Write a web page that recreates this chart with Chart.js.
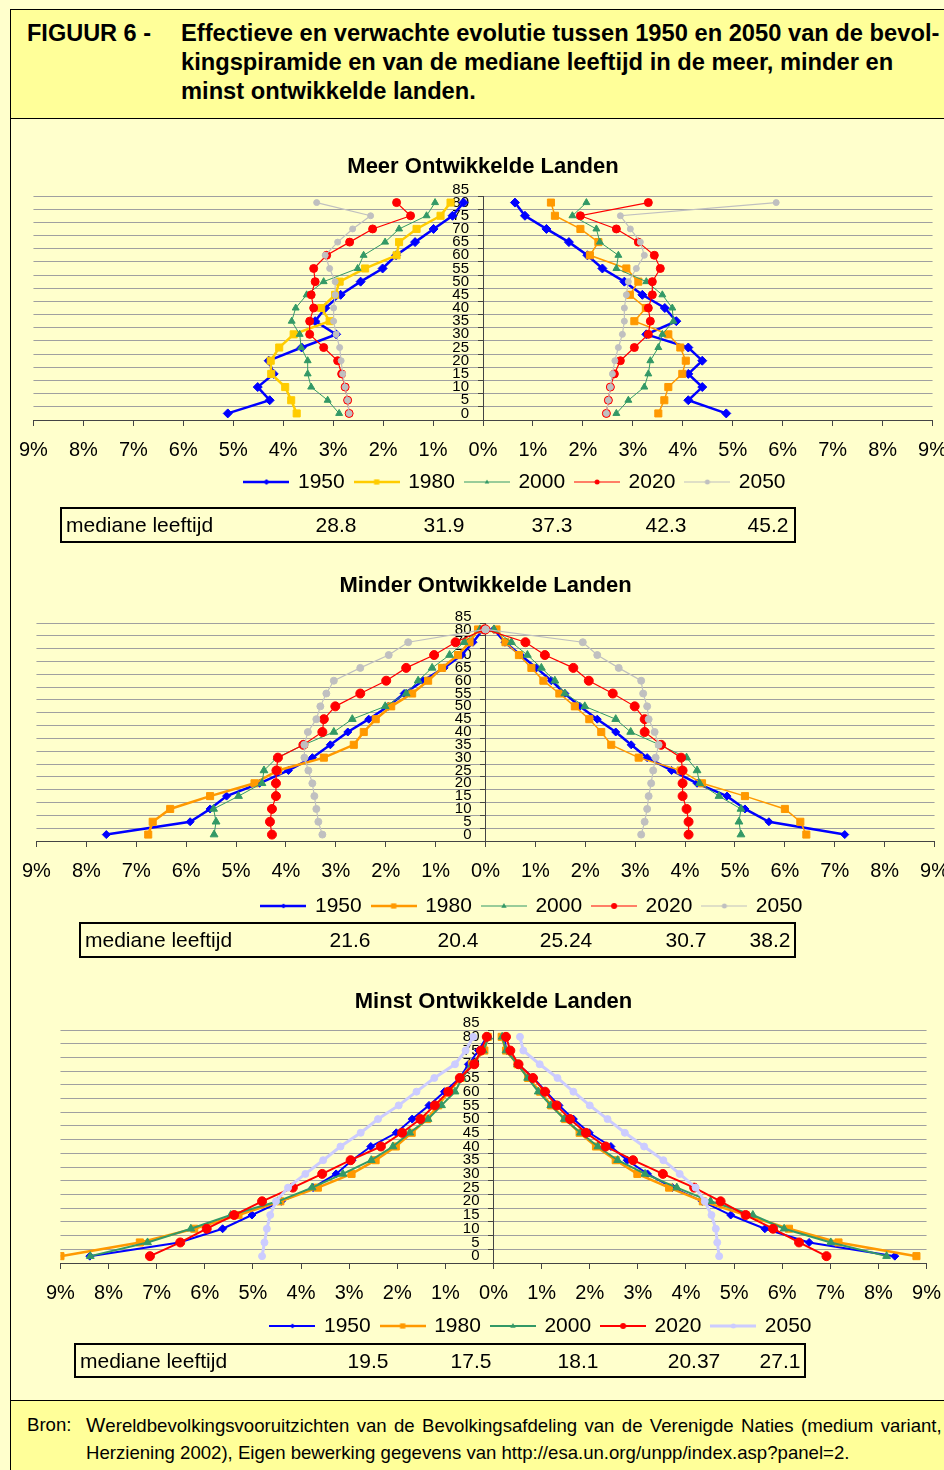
<!DOCTYPE html>
<html>
<head>
<meta charset="utf-8">
<script src="https://cdn.jsdelivr.net/npm/chart.js@4.4.1/dist/chart.umd.min.js"></script>
<style>
  html, body { margin: 0; padding: 0; width: 944px; height: 1470px; overflow: hidden; background: #ffffcc; }
  body { font-family: "Liberation Sans", Arial, Helvetica, sans-serif; color: #000; }
  #frame { position: absolute; left: 10px; top: 9px; width: 1000px; height: 1500px; border: 1px solid #000; background: #ffffcc; box-sizing: border-box; }
  #header { position: absolute; left: 10px; top: 9px; width: 1000px; height: 110px; background: #ffff99; border: 1px solid #000; box-sizing: border-box; }
  #header .lbl { position: absolute; left: 16px; top: 9px; font-size: 23.5px; font-weight: bold; line-height: 29px; white-space: nowrap; }
  #header .ttl { position: absolute; left: 170px; top: 9px; font-size: 23.7px; font-weight: bold; line-height: 29px; white-space: nowrap; }
  #footer { position: absolute; left: 10px; top: 1400px; width: 1000px; height: 100px; background: #ffff99; border-top: 1px solid #000; border-left: 1px solid #000; box-sizing: border-box; }
  #footer .bron { position: absolute; left: 16px; top: 10px; font-size: 18.6px; line-height: 27px; white-space: nowrap; }
  #footer .src { position: absolute; left: 75px; top: 10px; font-size: 18.6px; line-height: 27px; white-space: nowrap; }
  #footer .src .big { font-size: 20.5px; }
  #footer .l1 { word-spacing: 2.2px; }
  canvas { position: absolute; }
  .mbox { position: absolute; border: 2px solid #000; box-sizing: border-box; font-size: 21px; white-space: nowrap; }
  .mbox span { position: absolute; top: 0; }
  .mbox .lab { left: 4px; }
  .mbox .val { transform: translateX(-50%); }
</style>
</head>
<body>
<div id="frame"></div>
<div id="header">
  <div class="lbl">FIGUUR 6 -</div>
  <div class="ttl">Effectieve en verwachte evolutie tussen 1950 en 2050 van de bevol-<br>kingspiramide en van de mediane leeftijd in de meer, minder en<br>minst ontwikkelde landen.</div>
</div>

<canvas id="c1" width="952" height="373" style="left:6.5px; top:143px;"></canvas>
<div class="mbox" id="t1" style="left:60px; top:507px; width:736px; height:36px; line-height:32px;"></div>

<canvas id="c2" width="951" height="375" style="left:9.5px; top:562px;"></canvas>
<div class="mbox" id="t2" style="left:79px; top:922px; width:717px; height:36px; line-height:32px;"></div>

<canvas id="c3" width="919" height="381" style="left:33.5px; top:978px;"></canvas>
<div class="mbox" id="t3" style="left:74px; top:1343px; width:732px; height:35px; line-height:31px;"></div>

<div id="footer">
  <div class="bron">Bron:</div>
  <div class="src"><span class="l1"><span class="big">W</span>ereldbevolkingsvooruitzichten van de Bevolkingsafdeling van de Verenigde Naties (medium variant,</span><br>Herziening 2002), Eigen bewerking gegevens van http://esa.un.org/unpp/index.asp?panel=2.</div>
</div>

<script>
// leeftijdsgroepen en jaren
const ageGroups = [0, 5, 10, 15, 20, 25, 30, 35, 40, 45, 50, 55, 60, 65, 70, 75, 80];
const years = ['1950', '1980', '2000', '2020', '2050'];
const yTickValues = [-2.5, 0, 2.5, 5, 7.5, 10, 12.5, 15, 17.5, 20, 22.5, 25, 27.5, 30, 32.5, 35, 37.5, 40,
  42.5, 45, 47.5, 50, 52.5, 55, 57.5, 60, 62.5, 65, 67.5, 70, 72.5, 75, 77.5, 80, 82.5, 85];

// Meer ontwikkelde landen (% per leeftijdsgroep), links = mannen, rechts = vrouwen
const meerLinks = [
  [5.11, 4.27, 4.51, 4.19, 4.29, 3.63, 2.94, 3.36, 3.16, 2.85, 2.45, 2.01, 1.74, 1.36, 0.99, 0.61, 0.39],
  [3.73, 3.84, 3.96, 4.24, 4.25, 4.08, 3.79, 3.07, 3.24, 2.96, 2.87, 2.36, 1.73, 1.68, 1.33, 0.85, 0.65],
  [2.88, 3.11, 3.44, 3.51, 3.51, 3.64, 3.67, 3.83, 3.75, 3.53, 3.19, 2.51, 2.39, 1.96, 1.68, 1.13, 0.96],
  [2.68, 2.71, 2.76, 2.83, 2.91, 3.19, 3.47, 3.47, 3.39, 3.44, 3.36, 3.39, 3.13, 2.67, 2.21, 1.45, 1.73],
  [2.68, 2.71, 2.76, 2.81, 2.84, 2.87, 2.94, 2.99, 2.99, 2.96, 2.96, 3.07, 3.16, 2.91, 2.61, 2.25, 3.33]
];
const meerRechts = [
  [4.87, 4.11, 4.39, 4.11, 4.39, 4.11, 3.27, 3.87, 3.64, 3.19, 2.83, 2.39, 2.09, 1.72, 1.27, 0.84, 0.64],
  [3.51, 3.63, 3.71, 3.99, 4.06, 3.95, 3.71, 3.03, 3.26, 2.94, 3.11, 2.87, 2.14, 2.31, 1.95, 1.44, 1.36],
  [2.67, 2.91, 3.23, 3.31, 3.35, 3.51, 3.59, 3.81, 3.79, 3.59, 3.27, 2.67, 2.71, 2.34, 2.27, 1.79, 2.07],
  [2.47, 2.51, 2.55, 2.63, 2.75, 3.03, 3.31, 3.35, 3.31, 3.39, 3.39, 3.55, 3.43, 3.11, 2.67, 1.95, 3.31],
  [2.47, 2.51, 2.55, 2.59, 2.64, 2.71, 2.79, 2.83, 2.83, 2.87, 2.91, 3.07, 3.23, 3.15, 2.95, 2.75, 5.87]
];
const meerMediaan = ['28.8', '31.9', '37.3', '42.3', '45.2'];

// Minder ontwikkelde landen
const minderLinks = [
  [7.60, 5.92, 5.52, 5.19, 4.53, 3.95, 3.47, 3.11, 2.76, 2.34, 1.95, 1.63, 1.25, 0.83, 0.48, 0.25, 0.05],
  [6.76, 6.67, 6.32, 5.52, 4.63, 4.16, 3.24, 2.64, 2.44, 2.20, 1.89, 1.47, 1.15, 0.87, 0.55, 0.32, 0.15],
  [5.44, 5.40, 5.45, 4.95, 4.48, 4.44, 4.18, 3.64, 3.04, 2.67, 2.01, 1.59, 1.35, 1.07, 0.72, 0.43, 0.11],
  [4.28, 4.32, 4.28, 4.20, 4.20, 4.19, 4.16, 3.65, 3.27, 3.24, 3.01, 2.51, 1.99, 1.59, 1.03, 0.60, 0.02],
  [3.27, 3.35, 3.39, 3.43, 3.47, 3.55, 3.63, 3.63, 3.56, 3.39, 3.31, 3.19, 3.04, 2.51, 1.94, 1.55, 0.00]
];
const minderRechts = [
  [7.20, 5.68, 5.20, 4.84, 4.24, 3.73, 3.24, 2.92, 2.61, 2.24, 1.89, 1.59, 1.32, 1.02, 0.70, 0.39, 0.17],
  [6.43, 6.31, 6.00, 5.20, 4.34, 3.91, 3.07, 2.52, 2.32, 2.08, 1.79, 1.48, 1.16, 0.92, 0.67, 0.40, 0.22],
  [5.12, 5.08, 5.12, 4.68, 4.29, 4.24, 4.03, 3.49, 2.91, 2.61, 1.99, 1.59, 1.39, 1.12, 0.84, 0.52, 0.17],
  [4.07, 4.07, 4.03, 3.95, 3.95, 3.95, 3.92, 3.52, 3.19, 3.19, 2.99, 2.55, 2.07, 1.76, 1.19, 0.80, 0.00],
  [3.12, 3.19, 3.24, 3.27, 3.32, 3.36, 3.41, 3.47, 3.39, 3.27, 3.24, 3.16, 3.12, 2.67, 2.24, 1.95, 0.00]
];
const minderMediaan = ['21.6', '20.4', '25.24', '30.7', '38.2'];

// Minst ontwikkelde landen
const minstLinks = [
  [8.39, 6.53, 5.63, 5.02, 4.41, 3.75, 3.27, 2.94, 2.55, 2.02, 1.69, 1.34, 1.02, 0.70, 0.52, 0.31, 0.14],
  [9.00, 7.35, 6.22, 5.30, 4.43, 3.65, 2.95, 2.45, 2.03, 1.70, 1.38, 1.15, 0.93, 0.68, 0.45, 0.19, 0.12],
  [8.38, 7.19, 6.29, 5.46, 4.48, 3.77, 3.13, 2.54, 2.09, 1.74, 1.36, 1.08, 0.80, 0.65, 0.45, 0.21, 0.10],
  [7.14, 6.51, 5.96, 5.39, 4.81, 4.17, 3.56, 2.97, 2.34, 1.90, 1.52, 1.22, 0.94, 0.70, 0.40, 0.26, 0.14],
  [4.81, 4.76, 4.71, 4.64, 4.52, 4.27, 3.91, 3.54, 3.18, 2.76, 2.40, 1.97, 1.60, 1.23, 0.80, 0.58, 0.42]
];
const minstRechts = [
  [8.34, 6.56, 5.64, 4.93, 4.34, 3.72, 3.20, 2.78, 2.44, 1.99, 1.66, 1.36, 1.09, 0.83, 0.51, 0.27, 0.22],
  [8.79, 7.17, 6.14, 5.24, 4.35, 3.65, 2.99, 2.54, 2.13, 1.79, 1.49, 1.20, 0.97, 0.72, 0.50, 0.26, 0.17],
  [8.17, 7.01, 6.04, 5.39, 4.51, 3.81, 3.15, 2.58, 2.17, 1.81, 1.47, 1.19, 0.93, 0.71, 0.50, 0.26, 0.18],
  [6.92, 6.35, 5.81, 5.24, 4.72, 4.17, 3.52, 2.90, 2.33, 1.92, 1.59, 1.31, 1.07, 0.82, 0.52, 0.35, 0.26],
  [4.69, 4.65, 4.62, 4.53, 4.39, 4.20, 3.87, 3.53, 3.13, 2.73, 2.37, 2.00, 1.66, 1.33, 0.96, 0.62, 0.55]
];
const minstMediaan = ['19.5', '17.5', '18.1', '20.37', '27.1'];

const FONT = '"Liberation Sans", Arial, Helvetica, sans-serif';

// lijnstijlen per grafiek (kleur links/rechts, lijndikte, marker)
const styleMeer = [
  { cL: '#0000ff', cR: '#0000ff', wL: 2.5, wR: 2.5, pt: 'rectRot', r: 4.5 },
  { cL: '#ffcc00', cR: '#ff9900', wL: 2.5, wR: 1.5, pt: 'rect', r: 5 },
  { cL: '#339966', cR: '#339966', wL: 1, wR: 1, pt: 'triangle', r: 4 },
  { cL: '#ff0000', cR: '#ff0000', wL: 1.2, wR: 1.2, pt: 'circle', r: 4 },
  { cL: '#c0c0c0', cR: '#c0c0c0', wL: 1.2, wR: 1.2, pt: 'circle', r: 3 }
];
const styleMinder = [
  { cL: '#0000ff', cR: '#0000ff', wL: 2.5, wR: 2.5, pt: 'rectRot', r: 4 },
  { cL: '#ff9900', cR: '#ff9900', wL: 2.5, wR: 1.5, pt: 'rect', r: 5 },
  { cL: '#339966', cR: '#339966', wL: 1, wR: 1, pt: 'triangle', r: 4.5 },
  { cL: '#ff0000', cR: '#ff0000', wL: 1.2, wR: 1.2, pt: 'circle', r: 4.5 },
  { cL: '#c0c0c0', cR: '#c0c0c0', wL: 1.2, wR: 1.2, pt: 'circle', r: 3.5 }
];
const styleMinst = [
  { cL: '#0000ff', cR: '#0000ff', wL: 2, wR: 2, pt: 'rectRot', r: 4 },
  { cL: '#ff9900', cR: '#ff9900', wL: 2.5, wR: 2.5, pt: 'rect', r: 5 },
  { cL: '#339966', cR: '#339966', wL: 2, wR: 2, pt: 'triangle', r: 4.5 },
  { cL: '#ff0000', cR: '#ff0000', wL: 2, wR: 2, pt: 'circle', r: 4.5 },
  { cL: '#ccccff', cR: '#ccccff', wL: 3, wR: 3, pt: 'circle', r: 3.5 }
];

function drawMarker(g, style, r, x, y) {
  g.beginPath();
  if (style === 'circle') g.arc(x, y, r, 0, 2 * Math.PI);
  else if (style === 'rect') g.rect(x - r * 0.75, y - r * 0.75, r * 1.5, r * 1.5);
  else if (style === 'rectRot') { g.moveTo(x, y - r); g.lineTo(x + r, y); g.lineTo(x, y + r); g.lineTo(x - r, y); g.closePath(); }
  else { g.moveTo(x, y - r); g.lineTo(x + r * 0.9, y + r * 0.6); g.lineTo(x - r * 0.9, y + r * 0.6); g.closePath(); }
  g.fill();
}

// legendasymbool: lijntje met marker in het midden
function legendIcon(s) {
  const c = document.createElement('canvas');
  c.width = 46; c.height = 14;
  const g = c.getContext('2d');
  g.strokeStyle = s.cL; g.lineWidth = s.wL;
  g.beginPath(); g.moveTo(0, 7); g.lineTo(46, 7); g.stroke();
  g.fillStyle = s.cL;
  drawMarker(g, s.pt, Math.max(2.5, s.r - 1.5), 23, 7);
  return c;
}

function buildDatasets(left, right, styles) {
  const ds = [];
  years.forEach((yr, i) => {
    const s = styles[i];
    [[left[i], -1, s.cL, s.wL], [right[i], 1, s.cR, s.wR]].forEach(([vals, sign, col, w]) => {
      ds.push({
        label: yr,
        data: ageGroups.map((a, k) => ({ x: sign * vals[k], y: a })),
        borderColor: col,
        backgroundColor: col,
        borderWidth: w,
        pointStyle: s.pt,
        pointRadius: s.r,
        pointBorderWidth: 1,
        pointBackgroundColor: col,
        pointBorderColor: col,
        tension: 0,
        fill: false,
        order: 4 - i
      });
    });
  });
  return ds;
}

// schuift de legende naar de plaats uit het origineel
const legendShift = {
  id: 'legendShift',
  afterLayout(chart, args, opts) {
    const lg = chart.legend;
    if (!lg) return;
    lg.left += opts.dx; lg.right += opts.dx;
    lg.top += opts.dy; lg.bottom += opts.dy;
  }
};

function makeChart(id, title, left, right, styles, titlePadBottom, dx, dy) {
  const icons = styles.map(legendIcon);
  new Chart(document.getElementById(id), {
    type: 'line',
    data: { datasets: buildDatasets(left, right, styles) },
    plugins: [legendShift],
    options: {
      responsive: false,
      animation: false,
      layout: { padding: { left: 20, right: 20, top: 0, bottom: 0 } },
      scales: {
        x: {
          type: 'linear', min: -9, max: 9,
          ticks: { stepSize: 1, maxTicksLimit: 25, autoSkip: false, maxRotation: 0, padding: 12, color: '#000',
            font: { size: 20, family: FONT }, callback: v => Math.abs(v) + '%' },
          grid: { drawOnChartArea: false, drawTicks: true, tickLength: 6, color: '#444' },
          border: { display: true, color: '#444', width: 1 }
        },
        y: {
          type: 'linear', position: 'center', min: -2.5, max: 82.5,
          afterBuildTicks: ax => { ax.ticks = yTickValues.map(v => ({ value: v })); },
          ticks: { autoSkip: false, padding: 9, color: '#000', font: { size: 15, family: FONT },
            callback: v => (v % 5 === 0 ? String(v) : '') },
          grid: {
            color: c => (c.tick && c.tick.value % 5 !== 0 ? '#a0a0a0' : 'rgba(0,0,0,0)'),
            tickColor: c => (c.tick && c.tick.value % 5 !== 0 ? '#444' : 'rgba(0,0,0,0)'),
            tickLength: 5
          },
          border: { display: true, color: '#444', width: 1 }
        }
      },
      plugins: {
        title: { display: true, text: title, color: '#000', font: { size: 22, weight: 'bold', family: FONT },
          padding: { top: 11, bottom: titlePadBottom } },
        legend: {
          position: 'bottom',
          labels: {
            usePointStyle: true, pointStyleWidth: 42, padding: 11, color: '#000',
            font: { size: 21, family: FONT },
            generateLabels: () => years.map((yr, i) => ({
              text: yr, pointStyle: icons[i], fillStyle: 'rgba(0,0,0,0)', strokeStyle: 'rgba(0,0,0,0)',
              lineWidth: 0, hidden: false, datasetIndex: i * 2, fontColor: '#000'
            }))
          }
        },
        legendShift: { dx: dx, dy: dy },
        tooltip: { enabled: false }
      }
    }
  });
}

function fillTable(id, values, centers, boxLeft) {
  const box = document.getElementById(id);
  const lab = document.createElement('span');
  lab.className = 'lab';
  lab.textContent = 'mediane leeftijd';
  box.appendChild(lab);
  values.forEach((v, i) => {
    const s = document.createElement('span');
    s.className = 'val';
    s.style.left = (centers[i] - boxLeft - 2) + 'px';
    s.textContent = v;
    box.appendChild(s);
  });
}

makeChart('c1', 'Meer Ontwikkelde Landen', meerLinks, meerRechts, styleMeer, 15.6, 32.5, -13.5);
makeChart('c2', 'Minder Ontwikkelde Landen', minderLinks, minderRechts, styleMinder, 23.6, 47, -10.5);
makeChart('c3', 'Minst Ontwikkelde Landen', minstLinks, minstRechts, styleMinst, 14.6, 48, -12.5);

fillTable('t1', meerMediaan, [336, 444, 552, 666, 768], 60);
fillTable('t2', minderMediaan, [350, 458, 566, 686, 770], 79);
fillTable('t3', minstMediaan, [368, 471, 578, 694, 780], 74);
</script>
</body>
</html>
